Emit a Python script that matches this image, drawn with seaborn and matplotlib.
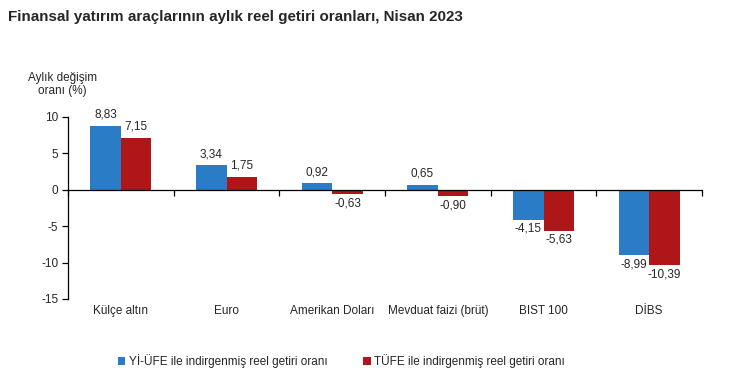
import numpy as np
import pandas as pd
import seaborn as sns
import matplotlib.pyplot as plt
from matplotlib import transforms

categories = ['Külçe altın', 'Euro', 'Amerikan Doları', 'Mevduat faizi (brüt)', 'BIST 100', 'DİBS']
yi_ufe = [8.83, 3.34, 0.92, 0.65, -4.15, -8.99]
tufe = [7.15, 1.75, -0.63, -0.90, -5.63, -10.39]
series = ['Yİ-ÜFE ile indirgenmiş reel getiri oranı', 'TÜFE ile indirgenmiş reel getiri oranı']
colors = ['#2a7cc6', '#ae1618']
yticks = [10, 5, 0, -5, -10, -15]

df = pd.DataFrame({'kategori': categories * 2,
                   'deger': yi_ufe + tufe,
                   'seri': [series[0]] * 6 + [series[1]] * 6})

sns.set_style('white')
plt.rcParams['font.family'] = ['Liberation Sans', 'DejaVu Sans']

fig = plt.figure(figsize=(7.5, 3.86), dpi=100)
ax = fig.add_axes([0.0907, 0.2254, 0.8453, 0.4715])

sns.barplot(data=df, x='kategori', y='deger', hue='seri', palette=colors,
            width=0.58, saturation=1, linewidth=0, ax=ax, legend=True)

ax.set_ylim(-15, 10)
ax.set_xlim(-0.5, 5.5)
ax.set_yticks(yticks)
ax.set_yticklabels([str(t) for t in yticks], fontsize=8.5)
ax.set_xlabel('')
ax.set_ylabel('')

# x axis sits at zero, ticks mark category boundaries
for s in ['top', 'right']:
    ax.spines[s].set_visible(False)
ax.spines['bottom'].set_position(('data', 0))
for s in ['bottom', 'left']:
    ax.spines[s].set_linewidth(0.9)
    ax.spines[s].set_color('black')
ax.set_xticks(np.arange(-0.5, 6, 1))
ax.set_xticklabels([])
ax.tick_params(axis='x', bottom=True, direction='out', length=4, width=0.9, color='black')
ax.tick_params(axis='y', left=True, direction='out', length=4, width=0.9, color='black', pad=3)

trans = transforms.blended_transform_factory(ax.transData, ax.transAxes)
for i, c in enumerate(categories):
    ax.text(i, -0.035, c, transform=trans, ha='center', va='top', fontsize=8.5)

# value labels
for cont in ax.containers:
    for bar in cont:
        h = bar.get_height()
        x = bar.get_x() + bar.get_width() / 2
        txt = f'{h:.2f}'.replace('.', ',')
        if h >= 0:
            ax.text(x, h + 0.7, txt, ha='center', va='bottom', fontsize=8.5)
        else:
            ax.text(x, h - 0.4, txt, ha='center', va='top', fontsize=8.5)

handles, labels = ax.get_legend_handles_labels()
ax.get_legend().remove()
fig.legend(handles, labels, loc='center', bbox_to_anchor=(0.455, 0.065), ncol=2,
           frameon=False, fontsize=8.5, handlelength=0.65, handleheight=0.65,
           handletextpad=0.3, columnspacing=3)

fig.text(0.011, 0.955, 'Finansal yatırım araçlarının aylık reel getiri oranları, Nisan 2023',
         fontsize=10.9, fontweight='bold', ha='left', va='center')
fig.text(0.083, 0.78, 'Aylık değişim\noranı (%)', fontsize=8.5, ha='center', va='center',
         linespacing=1.1)

fig.savefig('out.png', dpi=100)
